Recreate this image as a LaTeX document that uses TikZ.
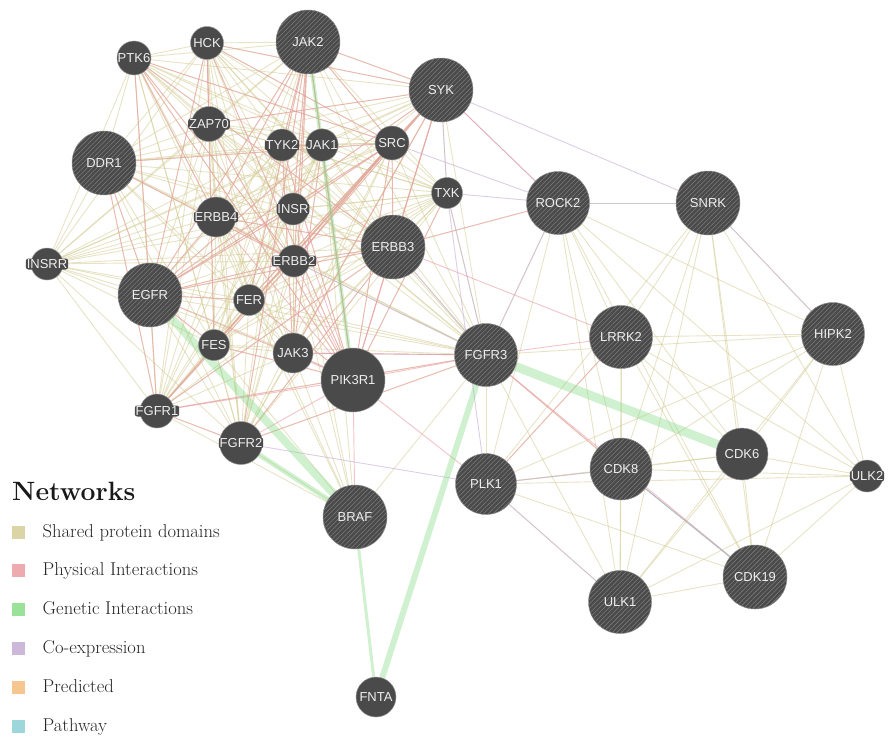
\documentclass[tikz,border=0pt]{standalone}
\usepackage{fontspec}
\newfontfamily\labfont{Liberation Sans}
\usetikzlibrary{patterns.meta}
\pgfdeclarelayer{edges}
\pgfsetlayers{edges,main}
\definecolor{nodegray}{RGB}{74,74,74}
\definecolor{nodeedge}{RGB}{150,150,150}
\definecolor{stripecol}{RGB}{125,125,125}
\definecolor{labwhite}{RGB}{238,238,238}
\definecolor{sdcol}{RGB}{212,204,150}
\definecolor{picol}{RGB}{234,156,162}
\definecolor{gicol}{RGB}{136,220,136}
\definecolor{cecol}{RGB}{198,172,212}
\definecolor{prcol}{RGB}{245,188,124}
\definecolor{pwcol}{RGB}{140,208,214}
\begin{document}
\begin{tikzpicture}[x=1pt,y=-1pt,
  gene/.style={circle,fill=nodegray,draw=nodeedge,line width=0.5pt,inner sep=0pt,
    text=labwhite,font=\labfont\fontsize{13}{14}\selectfont},
  striped/.style={postaction={pattern={Lines[angle=45,distance=3.3pt,line width=0.55pt]},pattern color=stripecol}},
  halo/.style={fill=nodegray,rounded corners=2.5pt,inner sep=0.9pt,text=labwhite,
    font=\labfont\fontsize{13}{14}\selectfont},
  sd/.style={draw=sdcol,line width=0.9pt,opacity=0.55},
  pi/.style={draw=picol,line width=0.9pt,opacity=0.6},
  ce/.style={draw=cecol,line width=0.9pt,opacity=0.6},
  pw/.style={draw=pwcol,line width=0.9pt,opacity=0.6},
  gi/.style={draw=gicol,opacity=0.4,line cap=butt},
  legsq/.style={rectangle,minimum size=13pt,inner sep=0pt,opacity=0.85},
  legtxt/.style={anchor=base west,inner sep=0pt,font=\fontsize{18.6}{22}\selectfont,text=black!85}
]
\useasboundingbox (0,0) rectangle (888,736);

% ---------- genes ----------
\node[gene,minimum size=34pt] (PTK6) at (134,58) {PTK6};
\node[gene,minimum size=33pt] (HCK) at (207,43) {HCK};
\node[gene,minimum size=64pt,striped] (JAK2) at (308,42) {JAK2};
\node[gene,minimum size=64pt,striped] (SYK) at (441,90) {SYK};
\node[gene,minimum size=35pt] (ZAP70) at (209,124) {};
\node[halo] (ZAP70l) at (ZAP70) {ZAP70};
\node[gene,minimum size=32pt] (TYK2) at (282,145) {};
\node[halo] (TYK2l) at (TYK2) {TYK2};
\node[gene,minimum size=32pt] (JAK1) at (322,145) {JAK1};
\node[gene,minimum size=34pt] (SRC) at (392,143) {SRC};
\node[gene,minimum size=64pt,striped] (DDR1) at (104,163) {DDR1};
\node[gene,minimum size=31pt] (TXK) at (447,193) {TXK};
\node[gene,minimum size=63pt,striped] (ROCK2) at (558,203) {ROCK2};
\node[gene,minimum size=64pt,striped] (SNRK) at (708,203) {SNRK};
\node[gene,minimum size=40pt] (ERBB4) at (216,217) {};
\node[halo] (ERBB4l) at (ERBB4) {ERBB4};
\node[gene,minimum size=32pt] (INSR) at (293,209) {};
\node[halo] (INSRl) at (INSR) {INSR};
\node[gene,minimum size=64pt,striped] (ERBB3) at (393,247) {ERBB3};
\node[gene,minimum size=32pt] (INSRR) at (47,264) {};
\node[halo] (INSRRl) at (INSRR) {INSRR};
\node[gene,minimum size=32pt] (ERBB2) at (294,261) {};
\node[halo] (ERBB2l) at (ERBB2) {ERBB2};
\node[gene,minimum size=64pt,striped] (EGFR) at (150,295) {EGFR};
\node[gene,minimum size=31pt] (FER) at (249,300) {FER};
\node[gene,minimum size=63pt,striped] (LRRK2) at (621,337) {LRRK2};
\node[gene,minimum size=63pt,striped] (HIPK2) at (833,334) {HIPK2};
\node[gene,minimum size=63pt,striped] (FGFR3) at (486,355) {FGFR3};
\node[gene,minimum size=31pt] (FES) at (214,345) {FES};
\node[gene,minimum size=40pt] (JAK3) at (293,353) {JAK3};
\node[gene,minimum size=64pt] (PIK3R1) at (353,380) {PIK3R1};
\node[gene,minimum size=34pt] (FGFR1) at (157,411) {};
\node[halo] (FGFR1l) at (FGFR1) {FGFR1};
\node[gene,minimum size=43pt] (FGFR2) at (241,443) {};
\node[halo] (FGFR2l) at (FGFR2) {FGFR2};
\node[gene,minimum size=52pt] (CDK6) at (742,454) {CDK6};
\node[gene,minimum size=62pt,striped] (CDK8) at (621,469) {CDK8};
\node[gene,minimum size=61pt,striped] (PLK1) at (486,484) {PLK1};
\node[gene,minimum size=32pt] (ULK2) at (867,476) {};
\node[halo] (ULK2l) at (ULK2) {ULK2};
\node[gene,minimum size=64pt,striped] (BRAF) at (355,517) {BRAF};
\node[gene,minimum size=64pt,striped] (CDK19) at (755,577) {CDK19};
\node[gene,minimum size=63pt,striped] (ULK1) at (620,602) {ULK1};
\node[gene,minimum size=40pt] (FNTA) at (376,697) {FNTA};

% ---------- edges ----------
\def\Klist{PTK6,HCK,JAK2,SYK,ZAP70,TYK2,JAK1,SRC,DDR1,TXK,ERBB4,INSR,ERBB3,INSRR,ERBB2,EGFR,FER,FES,JAK3,FGFR1,FGFR2,FGFR3}
\def\Rlist{ROCK2,SNRK,LRRK2,HIPK2,CDK6,CDK8,PLK1,ULK2,CDK19,ULK1}
\begin{pgfonlayer}{edges}
  % shared protein domains
  \foreach \a [count=\i] in \Klist {
    \foreach \b [count=\j] in \Klist {
      \ifnum\j>\i \draw[sd] (\a) -- (\b); \fi
    }
  }
  \foreach \a [count=\i] in \Rlist {
    \foreach \b [count=\j] in \Rlist {
      \ifnum\j>\i \draw[sd] (\a) -- (\b); \fi
    }
  }
  \foreach \b in {SRC,SYK,ZAP70,HCK,TXK,FES,FER,PTK6,JAK1,JAK2,JAK3,TYK2}
    \draw[sd] (PIK3R1) -- (\b);
  \foreach \b in {FGFR2,FGFR1,JAK3,FES,FER,ERBB2,ERBB4,INSR,FGFR3,JAK1}
    \draw[sd] (BRAF) -- (\b);
  \foreach \a/\b in {FGFR3/ROCK2,FGFR3/CDK8,FGFR3/PLK1,FGFR3/ULK1,ERBB3/ROCK2,FGFR3/HIPK2}
    \draw[sd] (\a) -- (\b);

  % co-expression
  \foreach \a/\b in {SYK/SNRK,SYK/ROCK2,TXK/ROCK2,SRC/ROCK2,ROCK2/SNRK,SNRK/HIPK2,
      PLK1/CDK8,PLK1/ULK1,CDK8/CDK19,TXK/FGFR3,TXK/PLK1,FGFR2/PLK1,ERBB3/FGFR3,
      SYK/TXK,JAK3/FGFR3,ERBB2/FGFR3,FGFR3/ROCK2}
    \draw[ce] (\a) -- (\b);

  % physical interactions
  \foreach \a/\b in {JAK2/TYK2,JAK2/JAK1,JAK2/EGFR,JAK2/SYK,JAK2/SRC,JAK2/ERBB2,JAK2/JAK3,
      JAK2/FER,JAK2/INSR,JAK2/ERBB4,JAK1/TYK2,JAK1/JAK3,JAK1/EGFR,TYK2/JAK3,
      SYK/ZAP70,SYK/SRC,SYK/HCK,SYK/EGFR,SYK/JAK3,SYK/FES,SYK/ERBB3,SYK/ERBB2,
      SRC/HCK,SRC/EGFR,SRC/ERBB2,SRC/ERBB3,SRC/FER,SRC/INSR,SRC/FGFR1,SRC/DDR1,SRC/PTK6,
      HCK/ZAP70,HCK/EGFR,HCK/FES,PTK6/EGFR,PTK6/ERBB2,PTK6/ERBB3,PTK6/ERBB4,
      EGFR/ERBB2,EGFR/ERBB3,EGFR/ERBB4,EGFR/INSR,EGFR/FER,EGFR/FES,EGFR/DDR1,EGFR/FGFR1,
      ERBB2/ERBB3,ERBB2/ERBB4,ERBB3/ERBB4,FGFR1/FGFR2,FGFR1/FGFR3,FGFR2/FGFR3,
      FGFR1/ERBB3,FGFR1/ERBB2,FGFR2/ERBB3,FGFR2/JAK2,DDR1/FGFR1,DDR1/ERBB2,
      ROCK2/ERBB3,ROCK2/SYK,ERBB3/LRRK2,FGFR3/LRRK2,LRRK2/PLK1,PIK3R1/PLK1,
      FGFR3/CDK19,CDK8/CDK19,PIK3R1/BRAF,FGFR3/CDK8,JAK3/FGFR3}
    \draw[pi] (\a) -- (\b);
  \foreach \b in {EGFR,ERBB2,ERBB3,ERBB4,JAK2,JAK1,SYK,SRC,HCK,FGFR1,FGFR2,FGFR3,
      INSR,FER,FES,PTK6,TXK,ZAP70,JAK3,TYK2}
    \draw[pi] (PIK3R1) -- (\b);

  % pathway
  \draw[pw] (CDK8) -- (CDK19);

  % genetic interactions
  \draw[gi,line width=9pt] (FGFR3) -- (CDK6);
  \draw[gi,line width=6pt] (FGFR3) -- (FNTA);
  \draw[gi,line width=8pt] (EGFR) -- (BRAF);
  \draw[gi,line width=5pt] (FGFR2) -- (BRAF);
  \draw[gi,line width=3pt] (BRAF) -- (FNTA);
  \draw[gi,line width=4pt] (JAK2) -- (PIK3R1);
\end{pgfonlayer}

% ---------- legend ----------
\node[anchor=base west,inner sep=0pt,font=\fontsize{26.5}{30}\selectfont\bfseries,text=black!90] (nettitle) at (12,500) {Networks};
\foreach \c/\t [count=\k from 0] in {sdcol/Shared protein domains,picol/Physical Interactions,
    gicol/Genetic Interactions,cecol/Co-expression,prcol/Predicted,pwcol/Pathway} {
  \node[legsq,fill=\c] (sq\k) at (18.5,532+38.8*\k) {};
  \node[legtxt] (lt\k) at (42.5,537+38.8*\k) {\t};
}
\end{tikzpicture}
\end{document}
